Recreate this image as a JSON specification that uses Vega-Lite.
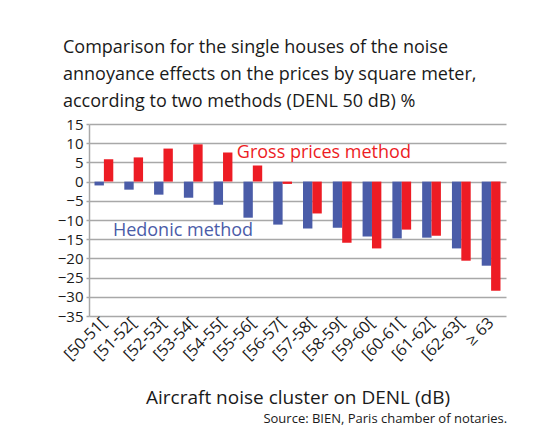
{
  "$schema": "https://vega.github.io/schema/vega-lite/v6.json",
  "autosize": "none",
  "width": 417,
  "height": 192,
  "padding": {"left": 89, "top": 124, "right": 48, "bottom": 120},
  "background": "white",
  "config": {
    "font": "Open Sans",
    "view": {"stroke": null}
  },
  "title": {
    "text": ["Comparison for the single houses of the noise", "annoyance effects on the prices by square meter,", "according to two methods (DENL 50 dB) %"],
    "anchor": "start",
    "frame": "group",
    "dx": -26,
    "offset": 6,
    "fontSize": 18,
    "fontWeight": "normal",
    "lineHeight": 27,
    "color": "#1a1a1a",
    "font": "Open Sans"
  },
  "data": {
    "values": [
      {"cluster": "[50-51[", "method": "Hedonic method", "value": -1.0},
      {"cluster": "[50-51[", "method": "Gross prices method", "value": 5.8},
      {"cluster": "[51-52[", "method": "Hedonic method", "value": -2.1},
      {"cluster": "[51-52[", "method": "Gross prices method", "value": 6.3},
      {"cluster": "[52-53[", "method": "Hedonic method", "value": -3.4},
      {"cluster": "[52-53[", "method": "Gross prices method", "value": 8.6},
      {"cluster": "[53-54[", "method": "Hedonic method", "value": -4.2},
      {"cluster": "[53-54[", "method": "Gross prices method", "value": 9.7},
      {"cluster": "[54-55[", "method": "Hedonic method", "value": -6.0},
      {"cluster": "[54-55[", "method": "Gross prices method", "value": 7.6},
      {"cluster": "[55-56[", "method": "Hedonic method", "value": -9.4},
      {"cluster": "[55-56[", "method": "Gross prices method", "value": 4.2},
      {"cluster": "[56-57[", "method": "Hedonic method", "value": -11.2},
      {"cluster": "[56-57[", "method": "Gross prices method", "value": -0.6},
      {"cluster": "[57-58[", "method": "Hedonic method", "value": -12.2},
      {"cluster": "[57-58[", "method": "Gross prices method", "value": -8.3},
      {"cluster": "[58-59[", "method": "Hedonic method", "value": -12.0},
      {"cluster": "[58-59[", "method": "Gross prices method", "value": -15.9},
      {"cluster": "[59-60[", "method": "Hedonic method", "value": -14.3},
      {"cluster": "[59-60[", "method": "Gross prices method", "value": -17.4},
      {"cluster": "[60-61[", "method": "Hedonic method", "value": -14.8},
      {"cluster": "[60-61[", "method": "Gross prices method", "value": -12.5},
      {"cluster": "[61-62[", "method": "Hedonic method", "value": -14.6},
      {"cluster": "[61-62[", "method": "Gross prices method", "value": -14.1},
      {"cluster": "[62-63[", "method": "Hedonic method", "value": -17.4},
      {"cluster": "[62-63[", "method": "Gross prices method", "value": -20.6},
      {"cluster": "≥ 63", "method": "Hedonic method", "value": -21.9},
      {"cluster": "≥ 63", "method": "Gross prices method", "value": -28.4}
    ]
  },
  "encoding": {
    "x": {
      "field": "cluster",
      "type": "nominal",
      "sort": null,
      "scale": {"paddingInner": 0.37, "paddingOuter": 0.185},
      "axis": {
        "title": "Aircraft noise cluster on DENL (dB)",
        "titleFontSize": 19,
        "titleFontWeight": "normal",
        "titleColor": "#1a1a1a",
        "titlePadding": 26,
        "labelAngle": -45,
        "labelAlign": "right",
        "labelBaseline": "middle",
        "labelFontSize": 16,
        "labelColor": "#1a1a1a",
        "labelPadding": 4,
        "domain": false,
        "ticks": false,
        "grid": false
      }
    },
    "y": {
      "type": "quantitative",
      "scale": {"domain": [-35, 15], "nice": false, "zero": false},
      "axis": {
        "title": null,
        "values": [-35, -30, -25, -20, -15, -10, -5, 0, 5, 10, 15],
        "labelOverlap": false,
        "labelFontSize": 15,
        "labelColor": "#1a1a1a",
        "labelPadding": 3,
        "gridColor": "#a8a8a8",
        "gridWidth": 1.5,
        "domainColor": "#a8a8a8",
        "domainWidth": 1.5,
        "tickColor": "#a8a8a8",
        "tickWidth": 1.5,
        "tickSize": 3
      }
    }
  },
  "layer": [
    {
      "mark": {"type": "bar"},
      "encoding": {
        "xOffset": {"field": "method", "type": "nominal", "scale": {"domain": ["Hedonic method", "Gross prices method"]}},
        "y": {"field": "value"},
        "color": {
          "field": "method",
          "type": "nominal",
          "scale": {"domain": ["Hedonic method", "Gross prices method"], "range": ["#4a5ca8", "#ed1c24"]},
          "legend": null
        }
      }
    },
    {
      "data": {"values": [{}]},
      "mark": {"type": "text", "align": "left", "baseline": "middle", "fontSize": 18, "color": "#ed1c24", "dx": -16},
      "encoding": {
        "x": {"datum": "[55-56["},
        "y": {"datum": 7.5},
        "text": {"value": "Gross prices method"}
      }
    },
    {
      "data": {"values": [{}]},
      "mark": {"type": "text", "align": "left", "baseline": "middle", "fontSize": 18, "color": "#4a5ca8", "dx": 9},
      "encoding": {
        "x": {"datum": "[50-51["},
        "y": {"datum": -12.8},
        "text": {"value": "Hedonic method"}
      }
    },
    {
      "data": {"values": [{}]},
      "mark": {"type": "text", "align": "right", "baseline": "alphabetic", "fontSize": 13, "color": "#1a1a1a", "dx": 16, "dy": 107},
      "encoding": {
        "x": {"datum": "≥ 63"},
        "y": {"datum": -35},
        "text": {"value": "Source: BIEN, Paris chamber of notaries."}
      }
    }
  ]
}
